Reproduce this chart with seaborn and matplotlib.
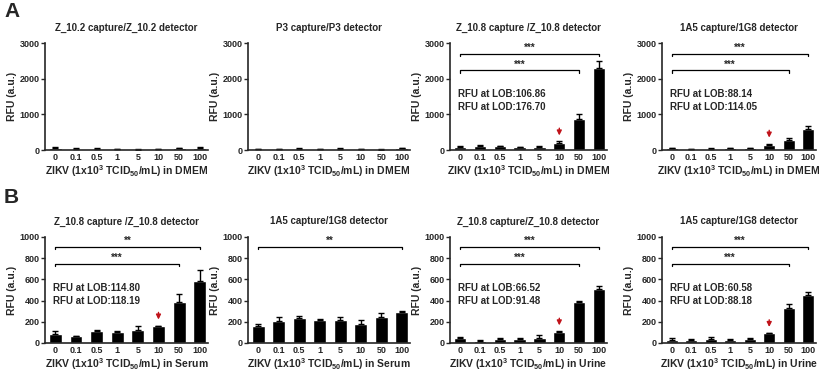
import numpy as np
import pandas as pd
import matplotlib
matplotlib.use("Agg")
import matplotlib.pyplot as plt
import seaborn as sns

# 1. data
conc = ["0", "0.1", "0.5", "1", "5", "10", "50", "100"]

titles_a = ["Z_10.2 capture/Z_10.2 detector", "P3 capture/P3 detector",
            "Z_10.8 capture /Z_10.8 detector", "1A5 capture/1G8 detector"]
titles_b = ["Z_10.8 capture /Z_10.8 detector", "1A5 capture/1G8 detector",
            "Z_10.8 capture/Z_10.8 detector", "1A5 capture/1G8 detector"]
media_b = ["Serum", "Serum", "Urine", "Urine"]

a1_mean = [60, 40, 40, 30, 10, 30, 50, 60]
a1_err = [15, 10, 10, 10, 5, 10, 15, 15]
a2_mean = [20, 20, 40, 20, 40, 20, 10, 50]
a2_err = [5, 5, 10, 5, 10, 5, 5, 10]
a3_mean = [80, 100, 100, 80, 90, 190, 860, 2300]
a3_err = [20, 50, 20, 10, 20, 50, 150, 200]
a4_mean = [50, 30, 40, 50, 50, 140, 280, 590]
a4_err = [20, 10, 10, 20, 15, 40, 50, 80]

b1_mean = [85, 70, 115, 100, 120, 160, 385, 585]
b1_err = [25, 0, 5, 15, 40, 5, 80, 105]
b2_mean = [165, 210, 235, 220, 215, 180, 245, 290]
b2_err = [10, 40, 20, 10, 35, 35, 40, 15]
b3_mean = [45, 20, 40, 35, 50, 105, 390, 510]
b3_err = [15, 10, 10, 15, 30, 5, 5, 25]
b4_mean = [30, 25, 40, 30, 40, 95, 330, 450]
b4_err = [20, 15, 15, 10, 5, 0, 40, 35]

lob_lod = {"a3": ("106.86", "176.70"), "a4": ("88.14", "114.05"),
           "b1": ("114.80", "118.19"), "b3": ("66.52", "91.48"),
           "b4": ("60.58", "88.18")}

# brackets: (end index, y value, stars)
sig = {"a3": [(7, 2700, "***"), (6, 2230, "***")],
       "a4": [(7, 2700, "***"), (6, 2230, "***")],
       "b1": [(7, 905, "**"), (6, 750, "***")],
       "b2": [(7, 905, "**")],
       "b3": [(7, 905, "***"), (6, 750, "***")],
       "b4": [(7, 905, "***"), (6, 750, "***")]}

# 2. style
sns.set_style("ticks")
plt.rcParams["font.family"] = ["Liberation Sans", "DejaVu Sans"]
plt.rcParams["font.weight"] = "bold"
plt.rcParams["mathtext.fontset"] = "custom"
plt.rcParams["mathtext.rm"] = "Liberation Sans:bold"
plt.rcParams["mathtext.it"] = "Liberation Sans:bold:italic"
plt.rcParams["mathtext.bf"] = "Liberation Sans:bold"

fig = plt.figure(figsize=(8.25, 3.73), dpi=100)

lefts = [45, 248, 450, 662]
widths = [163, 162, 157, 154]


def panel(ax, mean, err, title, medium, ymax, key):
    df = pd.DataFrame({"conc": conc, "rfu": mean})
    sns.barplot(data=df, x="conc", y="rfu", color="black", width=0.62,
                errorbar=None, saturation=1, ax=ax)
    ax.errorbar(np.arange(len(conc)), mean, yerr=[np.zeros(len(err)), err],
                fmt="none", ecolor="black", elinewidth=1, capsize=2.5,
                capthick=1)
    ax.set_ylim(0, ymax)
    ax.set_xlim(-0.5, 7.4)
    if ymax == 3000:
        ax.set_yticks([0, 1000, 2000, 3000])
    else:
        ax.set_yticks([0, 200, 400, 600, 800, 1000])
    ax.set_title(title, fontsize=7, fontweight="bold", pad=9)
    ax.set_xlabel("ZIKV (1x10$^{3}$ TCID$_{\\mathit{50}}$/mL) in " + medium,
                  fontsize=7.5, fontweight="bold", labelpad=1)
    ax.set_ylabel("RFU (a.u.)", fontsize=7.5, fontweight="bold", labelpad=2)
    ax.tick_params(axis="x", length=0, labelsize=6.5, pad=2)
    ax.tick_params(axis="y", length=3, width=1, labelsize=6.5, pad=1)
    for lab in ax.get_xticklabels() + ax.get_yticklabels():
        lab.set_fontweight("bold")
    sns.despine(ax=ax)
    for s in ["left", "bottom"]:
        ax.spines[s].set_linewidth(1.2)

    tick_h = ymax * 0.022
    for end, yv, stars in sig.get(key, []):
        ax.plot([0, 0, end, end], [yv - tick_h, yv, yv, yv - tick_h],
                color="black", lw=0.9)
        ax.text(end / 2, yv + ymax * 0.01, stars, ha="center", va="bottom",
                fontsize=7, fontweight="bold")

    if key in lob_lod:
        lob, lod = lob_lod[key]
        ax.text(-0.1, ymax * 0.46, f"RFU at LOB:{lob}\nRFU at LOD:{lod}",
                ha="left", va="center", fontsize=7, fontweight="bold",
                linespacing=1.4)
        top = mean[5] + err[5]
        ax.annotate("", xy=(5, top + ymax * 0.03),
                    xytext=(5, top + ymax * 0.15),
                    arrowprops=dict(arrowstyle="-|>", color="#c0131a",
                                    lw=1.0, mutation_scale=7))


row_a = [(a1_mean, a1_err, "a1"), (a2_mean, a2_err, "a2"),
         (a3_mean, a3_err, "a3"), (a4_mean, a4_err, "a4")]
row_b = [(b1_mean, b1_err, "b1"), (b2_mean, b2_err, "b2"),
         (b3_mean, b3_err, "b3"), (b4_mean, b4_err, "b4")]

W, H = 825, 373
for i, (m, e, k) in enumerate(row_a):
    ax = fig.add_axes([lefts[i] / W, 1 - 150 / H, widths[i] / W, 107 / H])
    panel(ax, m, e, titles_a[i], "DMEM", 3000, k)
for i, (m, e, k) in enumerate(row_b):
    ax = fig.add_axes([lefts[i] / W, 1 - 343 / H, widths[i] / W, 106 / H])
    panel(ax, m, e, titles_b[i], media_b[i], 1000, k)

fig.text(4 / W, 1 - 2 / H, "A", fontsize=15, fontweight="bold", va="top")
fig.text(4 / W, 1 - 188 / H, "B", fontsize=15, fontweight="bold", va="top")

fig.savefig("out.png", dpi=100)
